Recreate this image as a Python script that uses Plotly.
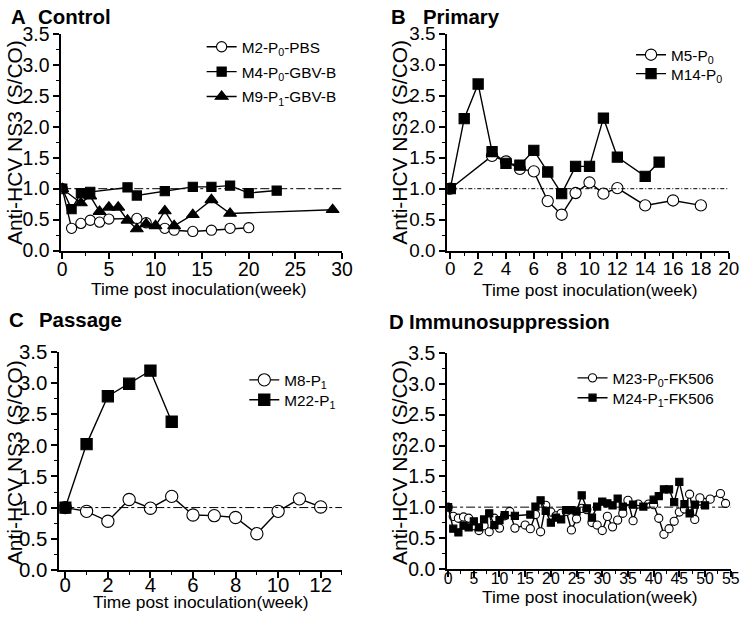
import plotly.graph_objects as go

FONT = "Arial, Liberation Sans, sans-serif"
W, H = 742, 619
CUTOFF = 1.0

# ---------------- Panel A: Control ----------------
a_m2_week = [0, 1, 2, 3, 4, 5, 8, 9, 11, 12, 14, 16, 18, 20]
a_m2_val = [1.0, 0.36, 0.44, 0.49, 0.46, 0.51, 0.52, 0.45, 0.36, 0.33, 0.31, 0.33, 0.36, 0.37]
a_m4_week = [0, 1, 2, 3, 7, 8, 11, 14, 16, 18, 20, 23]
a_m4_val = [1.0, 0.67, 0.93, 0.95, 1.02, 0.89, 0.96, 1.03, 1.03, 1.05, 0.93, 0.97]
a_m9_week = [0, 2, 3, 4, 5, 6, 7, 8, 9, 10, 11, 12, 14, 16, 18, 29]
a_m9_val = [1.0, 0.77, 0.88, 0.63, 0.70, 0.70, 0.49, 0.35, 0.43, 0.40, 0.64, 0.40, 0.58, 0.82, 0.60, 0.66]

# ---------------- Panel B: Primary ----------------
b_m5_week = [0, 3, 4, 5, 6, 7, 8, 9, 10, 11, 12, 14, 16, 18]
b_m5_val = [1.0, 1.53, 1.44, 1.32, 1.28, 0.80, 0.58, 0.93, 1.10, 0.92, 1.01, 0.73, 0.81, 0.73]
b_m14_week = [0, 1, 2, 3, 4, 5, 6, 7, 8, 9, 10, 11, 12, 14, 15]
b_m14_val = [1.0, 2.13, 2.69, 1.60, 1.41, 1.38, 1.62, 1.27, 0.92, 1.36, 1.36, 2.14, 1.51, 1.20, 1.43]

# ---------------- Panel C: Passage ----------------
c_m8_week = [0, 1, 2, 3, 4, 5, 6, 7, 8, 9, 10, 11, 12]
c_m8_val = [1.0, 0.94, 0.78, 1.13, 0.99, 1.18, 0.88, 0.87, 0.84, 0.58, 0.94, 1.14, 1.01]
c_m22_week = [0, 1, 2, 3, 4, 5]
c_m22_val = [1.0, 2.02, 2.79, 2.99, 3.20, 2.38]

# ---------------- Panel D: Immunosuppression ----------------
d_m23_week = [0, 1, 2, 3, 4, 5, 6, 7, 8, 9, 10, 11, 12, 13,
              15, 16, 17, 18, 19, 20, 21, 22, 23, 24, 25, 26, 27, 28, 29, 30, 31, 32, 33, 34, 35, 36, 37,
              39, 40, 41, 42, 43, 44, 45, 46, 47, 48, 49,
              51, 53, 54]
d_m23_val = [1.0, 0.85, 0.82, 0.84, 0.82, 0.70, 0.62, 0.70, 0.60, 0.82, 0.66, 0.86, 0.93, 0.66,
             0.71, 0.65, 0.88, 0.60, 1.03, 0.92, 0.86, 0.90, 0.93, 0.63, 0.81, 0.98, 0.96, 0.75, 0.71, 0.62, 0.85, 0.68, 0.79, 0.90, 1.11, 0.78, 1.05,
             1.05, 1.04, 0.82, 0.56, 0.65, 0.77, 0.92, 0.97, 1.21, 0.80, 1.15,
             1.13, 1.22, 1.06]
d_m24_week = [0, 1, 2, 3, 4, 5, 6, 7, 8, 9, 10, 11, 13,
              16, 17, 18, 19, 20, 21, 22, 23, 24, 25, 26, 27, 28, 29, 30, 31, 32, 33, 34,
              36, 38, 40, 41, 42, 43, 44, 45, 46, 47, 48, 50]
d_m24_val = [1.0, 0.65, 0.59, 0.70, 0.67, 0.77, 0.67, 0.80, 0.90, 0.71, 0.79, 0.87, 0.86,
             0.88, 1.01, 1.11, 0.94, 0.75, 0.83, 0.80, 0.95, 0.95, 0.93, 1.19, 0.98, 0.83, 1.01, 1.09, 1.06, 1.03, 1.14, 1.01,
             1.04, 1.01, 1.12, 1.18, 1.29, 1.29, 1.08, 1.41, 1.05, 0.90, 1.04, 1.03]

panel_letters = ["A", "B", "C", "D"]
panel_titles = ["Control", "Primary", "Passage", "Immunosuppression"]
x_title = "Time post inoculation(week)"
y_title = "Anti-HCV NS3 (S/CO)"

# mapping from target picture pixels to figure pixels (measured photo framing)
SX, OX = 0.988, 2.2
SY, OY = 0.97, 9.0
FS = 1 / 0.979


def fx(p):
    return ((p - OX) / SX) / W


def fy(p):
    return 1 - ((p - OY) / SY) / H


def fsz(s):
    return round(s * FS, 2)


fig = go.Figure()

series_specs = [
    # x, y, name, symbol, size, filled, panel, legend text-x, legend row-y (picture px)
    (a_m2_week, a_m2_val, "M2-P<sub>0</sub>-PBS", "circle", 10, False, 1, 242, 45),
    (a_m4_week, a_m4_val, "M4-P<sub>0</sub>-GBV-B", "square", 9, True, 1, 242, 70),
    (a_m9_week, a_m9_val, "M9-P<sub>1</sub>-GBV-B", "triangle-up", 11, True, 1, 242, 95),
    (b_m5_week, b_m5_val, "M5-P<sub>0</sub>", "circle", 11, False, 2, 675, 53),
    (b_m14_week, b_m14_val, "M14-P<sub>0</sub>", "square", 10, True, 2, 675, 72),
    (c_m8_week, c_m8_val, "M8-P<sub>1</sub>", "circle", 12, False, 3, 285, 380),
    (c_m22_week, c_m22_val, "M22-P<sub>1</sub>", "square", 11, True, 3, 285, 400),
    (d_m23_week, d_m23_val, "M23-P<sub>0</sub>-FK506", "circle", 8, False, 4, 616, 378),
    (d_m24_week, d_m24_val, "M24-P<sub>1</sub>-FK506", "square", 7, True, 4, 616, 398),
]

legends = {}
for k, (x, y, name, symbol, size, filled, panel, lx, ly) in enumerate(series_specs):
    sfx = "" if panel == 1 else str(panel)
    lname = "legend" if k == 0 else "legend%d" % (k + 1)
    fig.add_trace(go.Scatter(
        x=x, y=y, name=name, mode="lines+markers",
        line=dict(color="black", width=1.4),
        marker=dict(symbol=symbol, size=fsz(size),
                    color="black" if filled else "white",
                    line=dict(color="black", width=1.1)),
        xaxis="x" + sfx, yaxis="y" + sfx,
        legend=lname,
    ))
    legends[lname] = dict(x=fx(lx) - 41 / W, y=fy(ly), xanchor="left", yanchor="middle",
                          bgcolor="rgba(0,0,0,0)", borderwidth=0, itemwidth=30,
                          font=dict(family=FONT, size=fsz(15), color="black"))

# panel geometry (picture pixels): left, right, top, bottom
geom = [(60, 343, 32, 250), (449, 733, 32, 250), (58, 343, 352, 571), (449, 735, 353, 570)]
x_ranges = [[-0.1, 30], [-0.23, 20], [-0.28, 13], [-0.2, 55]]
x_dticks = [5, 2, 2, 5]
x_minor = [2.5, 1, 1, 2.5]
x_tick_size = [19, 18.5, 20, 15.5]
y_tick_size = [19, 18.5, 20, 19]
x_label_shift = [-6, -6, -10, -12]


def axis_common(size):
    return dict(showline=True, linecolor="black", linewidth=1.8, mirror=False,
                ticks="outside", ticklen=6, tickwidth=1.5, tickcolor="black",
                showgrid=False, zeroline=False,
                tickfont=dict(family=FONT, size=fsz(size), color="black"))


layout_axes = {}
for i, (l, r, t, b) in enumerate(geom):
    sfx = "" if i == 0 else str(i + 1)
    xa = axis_common(x_tick_size[i])
    xa.update(domain=[fx(l), min(fx(r), 1)], range=x_ranges[i], dtick=x_dticks[i], tick0=0,
              anchor="y" + sfx, ticklabelstandoff=x_label_shift[i],
              minor=dict(ticks="outside", ticklen=3.5, tickwidth=1.2, tickcolor="black",
                         dtick=x_minor[i], tick0=0, showgrid=False))
    ya = axis_common(y_tick_size[i])
    ya.update(domain=[fy(b), fy(t)], range=[0, 3.5], dtick=0.5, tick0=0, tickformat=".1f",
              anchor="x" + sfx,
              minor=dict(ticks="outside", ticklen=3.5, tickwidth=1.2, tickcolor="black",
                         dtick=0.25, tick0=0, showgrid=False))
    layout_axes["xaxis" + sfx] = xa
    layout_axes["yaxis" + sfx] = ya

# cutoff reference lines
shapes = []
for i in range(4):
    sfx = "" if i == 0 else str(i + 1)
    shapes.append(dict(type="line", xref="x" + sfx, yref="y" + sfx,
                       x0=0, x1=x_ranges[i][1], y0=CUTOFF, y1=CUTOFF,
                       line=dict(color="black", width=1,
                                 dash="dashdot" if i != 1 else "4px,2px,1px,2px")))

annotations = []
letter_pos = [(7, 15), (390, 15), (5, 320), (388, 322)]
title_pos = [(34, 15), (423, 15), (35, 320), (409, 322)]
for i in range(4):
    annotations.append(dict(text="<b>%s</b>" % panel_letters[i], x=fx(letter_pos[i][0]), y=fy(letter_pos[i][1]),
                            xref="paper", yref="paper", xanchor="left", yanchor="middle", showarrow=False,
                            font=dict(family=FONT, size=fsz(20), color="black")))
    annotations.append(dict(text="<b>%s</b>" % panel_titles[i], x=fx(title_pos[i][0]), y=fy(title_pos[i][1]),
                            xref="paper", yref="paper", xanchor="left", yanchor="middle",
                            showarrow=False,
                            font=dict(family=FONT, size=fsz(20), color="black")))

ytitle_pos = [(13, 141), (401, 141), (13, 463), (401, 463)]
xtitle_pos = [(198, 289), (593, 290), (200, 603), (593, 598)]
for i in range(4):
    annotations.append(dict(text=y_title, x=fx(ytitle_pos[i][0]), y=fy(ytitle_pos[i][1]),
                            xref="paper", yref="paper", xanchor="center", yanchor="middle",
                            textangle=-90, showarrow=False,
                            font=dict(family=FONT, size=fsz(20.5), color="black")))
    annotations.append(dict(text=x_title, x=fx(xtitle_pos[i][0]), y=fy(xtitle_pos[i][1]),
                            xref="paper", yref="paper", xanchor="center", yanchor="middle",
                            showarrow=False,
                            font=dict(family=FONT, size=fsz(17), color="black")))

fig.update_layout(
    width=W, height=H,
    margin=dict(l=0, r=0, t=0, b=0),
    paper_bgcolor="white", plot_bgcolor="white",
    font=dict(family=FONT, color="black"),
    showlegend=True,
    shapes=shapes,
    annotations=annotations,
    **legends,
    **layout_axes,
)

fig.write_html("out.html", post_script="document.body.style.margin='0px';",
               config={"displayModeBar": False})
